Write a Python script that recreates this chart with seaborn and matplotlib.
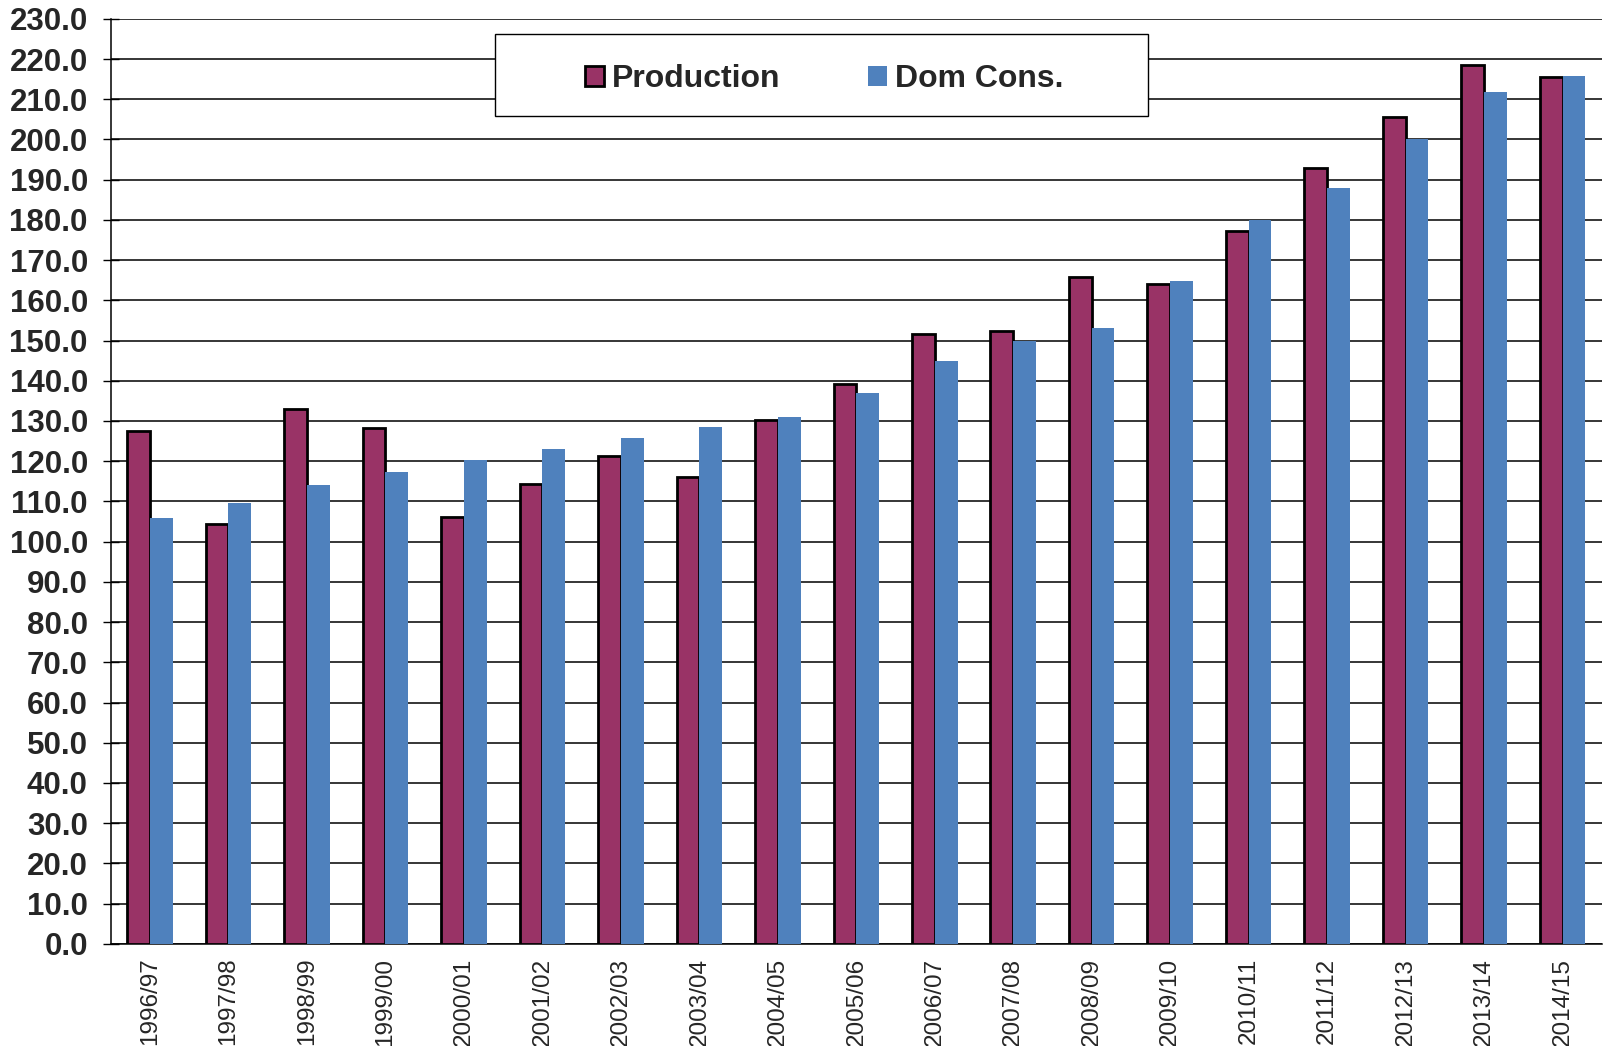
import numpy as np
import pandas as pd
import matplotlib
matplotlib.use("Agg")
import matplotlib.pyplot as plt
from matplotlib.patches import Rectangle, Patch
import seaborn as sns

# values
seasons = ["1996/97", "1997/98", "1998/99", "1999/00", "2000/01", "2001/02",
           "2002/03", "2003/04", "2004/05", "2005/06", "2006/07", "2007/08",
           "2008/09", "2009/10", "2010/11", "2011/12", "2012/13", "2013/14",
           "2014/15"]
production = [127.5, 104.5, 133.1, 128.2, 106.1, 114.3, 121.4, 116.0, 130.3,
              139.3, 151.7, 152.3, 165.9, 164.0, 177.2, 192.9, 205.6, 218.5,
              215.5]
dom_cons = [105.9, 109.6, 114.0, 117.3, 120.2, 123.1, 125.8, 128.4, 130.9,
            137.0, 144.9, 150.0, 153.0, 164.9, 180.0, 187.9, 200.0, 211.8,
            215.9]
series = ["Production", "Dom Cons."]
colors = {"Production": "#993366", "Dom Cons.": "#4F81BD"}

df = pd.DataFrame({
    "season": seasons * 2,
    "value": production + dom_cons,
    "series": [series[0]] * len(seasons) + [series[1]] * len(seasons),
})

sns.set_style("white")
plt.rcParams["font.family"] = ["Liberation Sans", "DejaVu Sans"]

fig = plt.figure(figsize=(16.05, 10.46), dpi=100)
ax = fig.add_axes([0.069, 0.0977, 0.929, 0.8843])

sns.barplot(data=df, x="season", y="value", hue="series", palette=colors,
            width=0.58, saturation=1, legend=False, ax=ax, zorder=3)

# production bars have a black outline
for bar in ax.containers[0]:
    bar.set_edgecolor("black")
    bar.set_linewidth(2)
for bar in ax.containers[1]:
    bar.set_edgecolor("none")

ax.set_ylim(0, 230)
ax.set_xlim(-0.5, len(seasons) - 0.5)
ax.set_yticks(np.arange(0, 231, 10))
ax.set_yticklabels([f"{v:.1f}" for v in np.arange(0, 231, 10)],
                   fontsize=22.5, fontweight="bold")
ax.yaxis.grid(True, color="black", linewidth=1.1, zorder=0)
ax.set_axisbelow(True)

ax.set_xticks(range(len(seasons)))
ax.set_xticklabels(seasons, rotation=90, fontsize=17.5)
ax.set_xticks(np.arange(-0.5, len(seasons), 1), minor=True)
ax.tick_params(axis="x", which="major", length=0, pad=10)
ax.tick_params(axis="x", which="minor", direction="inout", length=14,
               width=1, color="black")
ax.tick_params(axis="y", direction="inout", length=12, width=1,
               color="black", pad=10.5, left=True)

ax.set_xlabel("")
ax.set_ylabel("")
for side in ["top", "right"]:
    ax.spines[side].set_visible(False)
for side in ["left", "bottom"]:
    ax.spines[side].set_color("black")
    ax.spines[side].set_linewidth(1.1)

# legend box
ax.add_patch(Rectangle((0.3085, 0.889), 0.4068, 0.0785,
                       transform=fig.transFigure, facecolor="white",
                       edgecolor="black", linewidth=1, zorder=4,
                       clip_on=False))
handles = [Patch(facecolor=colors["Production"], edgecolor="black", linewidth=2),
           Patch(facecolor=colors["Dom Cons."], edgecolor="none")]
leg = ax.legend(handles, series, loc="center", ncol=2, frameon=False,
                bbox_to_anchor=(0.5135, 0.9245), bbox_transform=fig.transFigure,
                prop={"size": 23, "weight": "bold"}, handlelength=0.6,
                handleheight=0.6, handletextpad=0.25, columnspacing=2.75)
leg.set_zorder(5)

fig.savefig("out.png", dpi=100)
